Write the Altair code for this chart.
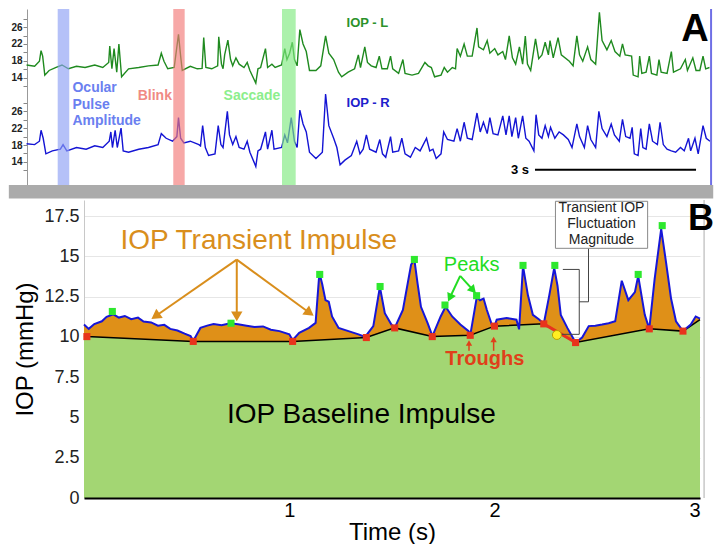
import math
import altair as alt
import pandas as pd

FONT = "Liberation Sans"

# ================= Panel A : raw recordings (time s, IOP mmHg) =================
L_t = [0.00, 0.15, 0.24, 0.27, 0.30, 0.34, 0.42, 0.54, 0.66, 0.78, 0.93, 1.09, 1.27, 1.42, 1.53, 1.55,
       1.59, 1.63, 1.68, 1.72, 1.77, 1.90, 2.09, 2.27, 2.45, 2.51, 2.56, 2.63, 2.75, 2.83, 2.87, 2.90,
       3.05, 3.18, 3.27, 3.30, 3.34, 3.45, 3.56, 3.58, 3.63, 3.66, 3.69, 3.75, 3.80, 3.84, 3.90, 3.96,
       4.05, 4.11, 4.16, 4.27, 4.31, 4.36, 4.45, 4.49, 4.57, 4.63, 4.75, 4.81, 4.85, 4.90, 4.95, 4.99,
       5.04, 5.09, 5.15, 5.21, 5.27, 5.39, 5.48, 5.57, 5.63, 5.72, 5.81, 5.87, 5.99, 6.11, 6.18, 6.22,
       6.30, 6.35, 6.42, 6.51, 6.57, 6.62, 6.72, 6.78, 6.82, 6.93, 7.01, 7.05, 7.18, 7.30, 7.42, 7.48,
       7.54, 7.60, 7.72, 7.78, 7.84, 7.93, 7.99, 8.02, 8.08, 8.15, 8.21, 8.30, 8.39, 8.42, 8.51, 8.58,
       8.63, 8.72, 8.78, 8.87, 8.92, 8.99, 9.05, 9.11, 9.18, 9.24, 9.29, 9.33, 9.39, 9.48, 9.54, 9.60,
       9.66, 9.72, 9.75, 9.81, 9.90, 9.96, 10.11, 10.18, 10.25, 10.30, 10.36, 10.45, 10.51, 10.60,
       10.67, 10.72, 10.81, 10.89, 10.96, 11.05, 11.10, 11.15, 11.27, 11.30, 11.39, 11.42, 11.46,
       11.54, 11.60, 11.64, 11.74, 11.78, 11.82, 11.93, 12.01, 12.05, 12.18, 12.27, 12.31, 12.41,
       12.47, 12.54, 12.60, 12.65, 12.72]
L_v = [17.0, 16.7, 17.9, 20.4, 19.1, 14.6, 15.7, 16.4, 17.0, 16.1, 16.7, 16.4, 17.0, 16.4, 17.6, 21.5,
       16.1, 20.9, 15.3, 22.0, 14.2, 16.1, 16.4, 16.8, 17.0, 19.8, 17.9, 16.1, 16.4, 24.3, 19.1, 15.7,
       16.7, 16.1, 16.2, 23.5, 16.4, 16.1, 16.8, 23.7, 17.2, 16.1, 19.4, 22.9, 18.3, 16.8, 18.7, 17.2,
       16.4, 17.6, 15.7, 12.7, 16.1, 16.4, 20.9, 16.4, 17.2, 16.4, 17.0, 20.9, 18.3, 19.8, 22.4, 18.3,
       16.8, 25.4, 22.0, 20.2, 15.7, 15.7, 16.8, 23.9, 19.8, 18.3, 15.3, 14.2, 15.3, 16.1, 19.4, 16.4,
       21.3, 17.6, 16.8, 16.4, 19.1, 16.1, 16.1, 19.1, 16.1, 15.0, 18.3, 15.0, 14.6, 15.0, 17.6, 16.8,
       16.4, 14.2, 14.6, 16.4, 15.3, 16.4, 16.1, 20.9, 19.1, 22.0, 19.1, 19.1, 25.8, 21.3, 20.6, 22.8,
       19.8, 20.9, 19.4, 20.2, 18.3, 23.9, 18.7, 17.2, 21.3, 17.2, 23.9, 17.2, 15.7, 23.2, 18.5, 19.4,
       22.4, 19.4, 22.8, 18.7, 23.5, 19.4, 17.9, 16.8, 23.9, 19.4, 17.9, 21.3, 18.3, 17.2,
       29.5, 22.8, 20.6, 22.8, 20.2, 19.1, 22.0, 19.4, 19.1, 14.6, 14.2, 19.1, 15.0,
       15.3, 19.1, 15.0, 14.6, 18.3, 15.3, 15.0, 20.2, 15.3, 16.1, 18.3, 15.7, 18.7,
       15.7, 15.7, 19.1, 16.1, 16.4]
R_t = [0.00, 0.15, 0.24, 0.27, 0.31, 0.36, 0.48, 0.63, 0.68, 0.75, 0.93, 1.11, 1.27, 1.42, 1.54, 1.57,
       1.60, 1.65, 1.69, 1.76, 1.80, 1.90, 2.09, 2.27, 2.45, 2.51, 2.60, 2.72, 2.80, 2.83, 2.87, 2.93,
       3.05, 3.21, 3.24, 3.28, 3.33, 3.39, 3.51, 3.57, 3.62, 3.66, 3.74, 3.78, 3.84, 3.90, 3.96, 4.05,
       4.11, 4.16, 4.27, 4.31, 4.36, 4.45, 4.49, 4.57, 4.61, 4.75, 4.81, 4.86, 4.93, 4.99, 5.04, 5.09,
       5.15, 5.21, 5.27, 5.39, 5.51, 5.57, 5.63, 5.72, 5.78, 5.84, 5.93, 6.05, 6.15, 6.21, 6.27, 6.33,
       6.39, 6.51, 6.58, 6.63, 6.69, 6.78, 6.82, 6.93, 6.99, 7.05, 7.15, 7.24, 7.33, 7.45, 7.51, 7.57,
       7.63, 7.72, 7.77, 7.84, 7.96, 8.02, 8.08, 8.15, 8.21, 8.30, 8.39, 8.45, 8.51, 8.58, 8.63, 8.69,
       8.78, 8.87, 8.93, 8.99, 9.04, 9.11, 9.16, 9.24, 9.30, 9.36, 9.45, 9.49, 9.54, 9.60, 9.66, 9.72,
       9.76, 9.84, 9.92, 10.00, 10.09, 10.16, 10.25, 10.30, 10.39, 10.45, 10.51, 10.60, 10.66, 10.72,
       10.81, 10.89, 10.95, 11.04, 11.10, 11.16, 11.24, 11.28, 11.32, 11.39, 11.44, 11.48, 11.54,
       11.60, 11.66, 11.75, 11.80, 11.86, 11.93, 12.01, 12.09, 12.18, 12.25, 12.33, 12.37, 12.45,
       12.51, 12.60, 12.66, 12.73]
R_v = [18.3, 18.1, 18.9, 21.5, 19.6, 15.9, 16.6, 17.0, 18.1, 16.6, 17.4, 17.0, 17.8, 17.4, 18.9, 21.1,
       17.4, 21.5, 17.4, 22.0, 16.6, 16.3, 17.0, 17.4, 18.1, 20.7, 19.6, 18.9, 20.0, 24.5, 19.6, 18.5,
       18.9, 18.1, 17.8, 22.6, 17.4, 15.5, 15.9, 22.6, 18.1, 17.4, 26.0, 20.4, 18.1, 20.0, 17.4, 17.0,
       18.9, 16.3, 12.9, 16.6, 17.0, 21.1, 17.0, 21.5, 17.0, 17.4, 20.4, 18.5, 24.5, 18.9, 17.4, 26.3,
       23.0, 21.1, 16.3, 14.8, 16.3, 30.1, 22.6, 19.6, 17.4, 13.3, 14.4, 15.5, 18.9, 15.9, 17.0, 20.4,
       17.0, 16.3, 19.3, 15.9, 15.1, 20.0, 16.3, 16.6, 19.6, 15.9, 15.1, 17.4, 16.6, 19.6, 16.6, 17.0,
       14.8, 15.9, 21.1, 19.3, 18.9, 21.9, 18.9, 23.4, 19.6, 19.3, 25.6, 21.1, 23.4, 20.7, 24.5, 20.7,
       20.4, 24.9, 20.4, 24.9, 20.0, 24.5, 19.6, 24.9, 19.6, 18.9, 16.6, 25.2, 20.4, 19.6, 22.6, 20.0,
       22.2, 19.6, 21.1, 20.4, 19.3, 17.4, 23.0, 20.0, 17.4, 22.6, 19.3, 17.4, 26.0, 21.9,
       20.0, 23.0, 20.4, 18.9, 24.1, 20.0, 19.6, 22.2, 15.9, 15.5, 21.9, 17.4, 17.0,
       23.0, 18.9, 18.1, 23.4, 18.1, 17.0, 16.6, 16.3, 17.4, 16.6, 19.6, 16.6, 19.6,
       15.9, 22.6, 19.6, 18.9]

EVENT_START = [0.58, 2.733, 4.758]
EVENT_END = [0.795, 2.945, 5.013]
EVENT_COLORS = ["#8da0f5", "#f27a78", "#7fea7f"]
A_TICKS = [12, 14, 16, 18, 20, 22, 24, 26, 28, 32, 34, 36, 38, 40, 42, 44, 46, 48]
OFFSET_L = 20  # IOP-L trace drawn 20 units above IOP-R on the shared axis

# ================= Panel B : one 3 s segment =================
TRACE_T = [0.000, 0.023, 0.05, 0.087, 0.11, 0.143, 0.17, 0.199, 0.23, 0.263, 0.29, 0.327, 0.36, 0.391,
           0.42, 0.455, 0.49, 0.519, 0.532, 0.567, 0.60, 0.631, 0.67, 0.712, 0.75, 0.792, 0.83, 0.872,
           0.91, 0.952, 1.000, 1.016, 1.048, 1.096, 1.128, 1.144, 1.149, 1.160, 1.176, 1.192, 1.208,
           1.240, 1.288, 1.337, 1.369, 1.409, 1.441, 1.465, 1.497, 1.513, 1.553, 1.593, 1.609, 1.625,
           1.641, 1.673, 1.697, 1.737, 1.761, 1.793, 1.833, 1.873, 1.881, 1.913, 1.929, 1.946, 1.962,
           1.986, 1.999, 2.010, 2.058, 2.106, 2.119, 2.138, 2.162, 2.186, 2.218, 2.239, 2.266, 2.290,
           2.306, 2.322, 2.354, 2.385, 2.394, 2.426, 2.458, 2.49, 2.523, 2.555, 2.587, 2.619, 2.651,
           2.683, 2.699, 2.731, 2.753, 2.779, 2.811, 2.835, 2.859, 2.883, 2.917, 2.955, 2.979, 3.000]
TRACE_V = [10.77, 10.50, 10.80, 10.97, 11.25, 11.40, 11.20, 11.30, 11.10, 11.20, 10.95, 10.90, 10.70,
           10.75, 10.50, 10.40, 10.20, 10.06, 9.75, 10.56, 10.70, 10.80, 10.72, 10.85, 10.78, 10.70,
           10.62, 10.65, 10.45, 10.36, 10.16, 9.80, 10.26, 10.56, 10.87, 13.59, 13.85, 13.28, 12.28,
           12.18, 11.27, 10.56, 10.36, 10.16, 10.00, 10.67, 13.10, 11.47, 10.77, 10.56, 11.67, 14.49,
           14.79, 13.28, 11.87, 10.87, 10.05, 11.27, 11.87, 11.27, 10.77, 10.36, 10.10, 12.48, 12.28,
           12.38, 11.67, 10.77, 10.67, 11.07, 11.17, 11.07, 10.47, 14.40, 12.58, 11.37, 11.07, 10.81,
           12.58, 14.29, 13.18, 11.37, 10.56, 9.86, 9.65, 9.96, 10.67, 10.70, 10.77, 10.85, 10.97,
           13.49, 12.28, 12.78, 13.79, 11.37, 10.50, 13.59, 16.71, 14.60, 12.38, 10.97, 10.36, 10.77,
           11.27, 11.13]
TROUGH_T = [0.014, 0.532, 1.016, 1.375, 1.513, 1.696, 1.881, 1.999, 2.239, 2.394, 2.753, 2.917]
TROUGH_V = [10.02, 9.72, 9.72, 9.96, 10.56, 10.02, 10.10, 10.67, 10.81, 9.65, 10.50, 10.36]
BASE_START = (0.0, 10.05)
BASE_END = (3.0, 11.07)
PEAK_T = [0.138, 0.716, 1.148, 1.442, 1.609, 1.758, 1.912, 2.138, 2.293, 2.699, 2.816]
PEAK_V = [11.58, 10.85, 13.88, 13.13, 14.81, 11.98, 12.56, 14.44, 14.44, 13.88, 16.91]
FLUCT_POINT = (2.303, 10.12)
B_TICKS = [0, 2.5, 5, 7.5, 10, 12.5, 15, 17.5]

# ---------------- sizes ----------------
WA, HA = 626, 176
WB, HB = 616, 298
XA = alt.Scale(domain=[1.07, 12.73], nice=False, zero=False)   # t < 1.07 drawn left of the shared edge
YA = alt.Scale(domain=[8.5, 50.3], nice=False, zero=False)
XB = alt.Scale(domain=[0, 3], nice=False, zero=False)
YB = alt.Scale(domain=[0, 18.5], nice=False, zero=False)
A_AXIS_OFFSET = round(1.07 * WA / (12.73 - 1.07))


def one(**kw):
    return pd.DataFrame({k: [v] for k, v in kw.items()})


# ---------------- Panel A ----------------
dfL = pd.DataFrame({"t": L_t, "v": L_v})
dfR = pd.DataFrame({"t": R_t, "v": R_v})
dfEv = pd.DataFrame({"t": EVENT_START, "t2": EVENT_END, "c": EVENT_COLORS})

axisA = alt.Axis(values=A_TICKS, title=None, grid=False, offset=A_AXIS_OFFSET,
                 labelExpr="datum.value % 4 == 2 ? (datum.value > 30 ? datum.value - 20 : datum.value) : ''",
                 labelFontSize=10, labelFontWeight="bold", labelColor="#222", labelPadding=1,
                 tickSize=4, tickColor="#888", domainColor="#999")


def xa(f="t:Q"):
    return alt.X(f, scale=XA, axis=None)


def ya(f):
    return alt.Y(f, scale=YA, axis=axisA)


def xda(v):
    return alt.XDatum(v, scale=XA, axis=None)


def yda(v):
    return alt.YDatum(v, scale=YA, axis=axisA)


lineL = alt.Chart(dfL).transform_calculate(yv=f"datum.v + {OFFSET_L}").mark_line(
    color="#1f8a1f", strokeWidth=1.4).encode(x=xa(), y=ya("yv:Q"))
lineR = alt.Chart(dfR).mark_line(color="#1414d4", strokeWidth=1.4).encode(x=xa(), y=ya("v:Q"))
bands = alt.Chart(dfEv).mark_rect(opacity=0.65).encode(
    x=xa(), x2="t2:Q", y=yda(8.5), y2=alt.Y2Datum(50.3), color=alt.Color("c:N", scale=None))
grayband = alt.Chart(one(a=1)).mark_rect(color="#ababab").encode(
    x=xda(-0.33), x2=alt.X2Datum(12.79), y=yda(8.5), y2=alt.Y2Datum(5.3))
border = alt.Chart(one(a=1)).mark_rule(color="#6f6fe6", strokeWidth=2).encode(
    x=xda(12.75), y=yda(8.5), y2=alt.Y2Datum(50.3))
scalebar = alt.Chart(one(a=1)).mark_rule(color="black", strokeWidth=2).encode(
    x=xda(9.47), x2=alt.X2Datum(12.47), y=yda(12.14))


def textA(s, t, y, color, size, align="left", weight="bold"):
    return alt.Chart(one(t=t, y=y, s=s)).mark_text(
        align=align, baseline="middle", fontSize=size, fontWeight=weight, color=color, font=FONT).encode(
        x=xa(), y=ya("y:Q"), text="s:N")


textsA = [
    textA("IOP - L", 5.96, 46.9, "#2b922b", 13),
    textA("IOP - R", 5.96, 28.06, "#2020cc", 13),
    textA("Ocular", 0.855, 31.43, "#6a80f0", 14),
    textA("Pulse", 0.855, 27.61, "#6a80f0", 14),
    textA("Amplitude", 0.855, 23.80, "#6a80f0", 14),
    textA("Blink", 2.07, 29.63, "#f08a84", 14),
    textA("Saccade", 3.67, 29.63, "#8cee8c", 14),
    textA("A", 12.45, 45.3, "black", 38, align="center"),
    textA("3 s", 9.36, 12.14, "black", 13, align="right"),
]

panelA = alt.layer(lineL, lineR, bands, grayband, border, scalebar, *textsA).properties(width=WA, height=HA)

# ---------------- Panel B ----------------
dfT = pd.DataFrame({"t": TRACE_T, "v": TRACE_V})
dfBase = pd.DataFrame({"t": [BASE_START[0]] + TROUGH_T + [BASE_END[0]],
                       "v": [BASE_START[1]] + TROUGH_V + [BASE_END[1]]})
dfTr = pd.DataFrame({"t": TROUGH_T, "v": TROUGH_V})
dfPk = pd.DataFrame({"t": PEAK_T, "v": PEAK_V})

axisXB = alt.Axis(values=[0, 1, 2, 3], labelExpr="datum.value == 0 ? '' : datum.label",
                  labelFontSize=20, labelPadding=2, labelColor="black", ticks=False,
                  domainColor="black", domainWidth=2, grid=False, zindex=1,
                  title="Time (s)", titleFontSize=24, titleFontWeight="normal", titleColor="black",
                  titlePadding=0)
axisYB = alt.Axis(values=B_TICKS, labelExpr="'' + datum.value", labelFontSize=18, labelPadding=5,
                  labelColor="#222", ticks=False, domainColor="#c8c8c8", grid=True, gridColor="#e6e6e6",
                  title="IOP (mmHg)", titleFontSize=24, titleFontWeight="normal", titleColor="black",
                  titlePadding=6)


def xb(f="t:Q"):
    return alt.X(f, scale=XB, axis=axisXB)


def yb(f="v:Q"):
    return alt.Y(f, scale=YB, axis=axisYB)


def xdb(v):
    return alt.XDatum(v, scale=XB, axis=axisXB)


def ydb(v):
    return alt.YDatum(v, scale=YB, axis=axisYB)


orange = alt.Chart(dfT).mark_area(color="#df9018").encode(x=xb(), y=yb(), y2=alt.Y2Datum(0))
green = alt.Chart(dfBase).mark_area(color="#a3d673").encode(x=xb(), y=yb(), y2=alt.Y2Datum(0))
baseline = alt.Chart(dfBase).mark_line(color="black", strokeWidth=1.5).encode(x=xb(), y=yb())
redseg = alt.Chart(dfBase).transform_filter("datum.t > 2.2 && datum.t < 2.5").mark_line(
    color="#e8321e", strokeWidth=3).encode(x=xb(), y=yb())
trace = alt.Chart(dfT).mark_line(color="#1616d8", strokeWidth=2).encode(x=xb(), y=yb())

bracket_df = pd.DataFrame({
    "t": [2.332, 2.412, 2.412, 2.313, 2.412, 2.457, 2.457],
    "v": [14.19, 14.19, 10.16, 10.16, 12.18, 12.18, 15.5],
    "o": [0, 1, 2, 3, 0, 1, 2],
    "g": ["a", "a", "a", "a", "b", "b", "b"]})
bracket = alt.Chart(bracket_df).mark_line(color="#444", strokeWidth=1).encode(
    x=xb(), y=yb(), detail="g:N", order="o:Q")
box = alt.Chart(one(a=1)).mark_rect(fill="white", stroke="#888", strokeWidth=1).encode(
    x=xdb(2.296), x2=alt.X2Datum(2.745), y=ydb(15.5), y2=alt.Y2Datum(18.42))

troughs = alt.Chart(dfTr).mark_square(size=50, color="#e8341c", opacity=1).encode(x=xb(), y=yb())
peaks = alt.Chart(dfPk).mark_square(size=50, color="#2ee82e", opacity=1).encode(x=xb(), y=yb())
yellow = alt.Chart(one(t=FLUCT_POINT[0], v=FLUCT_POINT[1])).mark_circle(
    size=80, color="#ffee22", opacity=1, stroke="#b8a000", strokeWidth=1).encode(x=xb(), y=yb())

SXB = WB / 3.0
SYB = HB / 18.5


def arrows(segs, color, width, head):
    r = math.sqrt(head) / 2
    back = math.sqrt(3) * r / 2
    rows, heads = [], []
    for (t1, v1, t2, v2) in segs:
        dx = (t2 - t1) * SXB
        dy = -(v2 - v1) * SYB
        ang = math.degrees(math.atan2(dx, -dy)) % 360
        ln = math.hypot(dx, dy)
        ux, uy = dx / ln, dy / ln
        ht = t2 - ux * back / SXB
        hv = v2 + uy * back / SYB
        rows.append({"t": t1, "v": v1, "t2": ht, "v2": hv})
        heads.append({"t": ht, "v": hv, "ang": ang})
    lines = alt.Chart(pd.DataFrame(rows)).mark_rule(color=color, strokeWidth=width).encode(
        x=xb(), y=yb(), x2="t2:Q", y2="v2:Q")
    hd = alt.Chart(pd.DataFrame(heads)).mark_point(
        shape="triangle", filled=True, size=head, color=color, opacity=1).encode(
        x=xb(), y=yb(), angle=alt.Angle("ang:Q", scale=None))
    return [lines, hd]


ORANGE = "#d98e1c"
arr_orange = arrows([(0.744, 14.80, 0.335, 11.17), (0.744, 14.80, 0.744, 11.07),
                     (0.744, 14.80, 1.112, 11.37)], ORANGE, 2, 130)
arr_green = arrows([(1.832, 13.79, 1.776, 12.28), (1.832, 13.79, 1.904, 12.78)], "#22dd22", 2, 90)
arr_red = arrows([(1.875, 9.14, 1.875, 9.74), (1.995, 9.14, 1.995, 9.96)], "#e0401a", 1.5, 40)


def textB(s, t, v, color, size, weight="normal", align="center"):
    return alt.Chart(one(t=t, v=v, s=s)).mark_text(
        align=align, baseline="middle", fontSize=size, fontWeight=weight, color=color, font=FONT).encode(
        x=xb(), y=yb(), text="s:N")


frame = alt.Chart(one(a=1)).mark_rule(color="#c8c8c8", strokeWidth=1.5).encode(
    x=xdb(3.02), y=ydb(0), y2=alt.Y2Datum(18.5))

textsB = [
    textB("IOP Transient Impulse", 0.851, 15.93, ORANGE, 28),
    textB("Peaks", 1.888, 14.49, "#22dd22", 20),
    textB("Troughs", 1.952, 8.65, "#e0401a", 20, weight="bold"),
    textB("IOP Baseline Impulse", 1.351, 5.16, "black", 28),
    textB("B", 3.005, 17.3, "black", 36, weight="bold"),
    textB("Transient IOP", 2.52, 18.0, "#222", 14),
    textB("Fluctuation", 2.52, 17.0, "#222", 14),
    textB("Magnitude", 2.52, 16.0, "#222", 14),
]

panelB = alt.layer(orange, green, baseline, redseg, trace, bracket, box, troughs, peaks, yellow,
                   *arr_orange, *arr_green, *arr_red, frame, *textsB).properties(width=WB, height=HB)

chart = alt.vconcat(panelA, panelB, spacing=0).properties(padding=0).configure_view(
    strokeWidth=0).configure_axis(labelFont=FONT, titleFont=FONT).configure_text(font=FONT)

chart.save("out.html", embed_options={"renderer": "svg", "actions": False})
